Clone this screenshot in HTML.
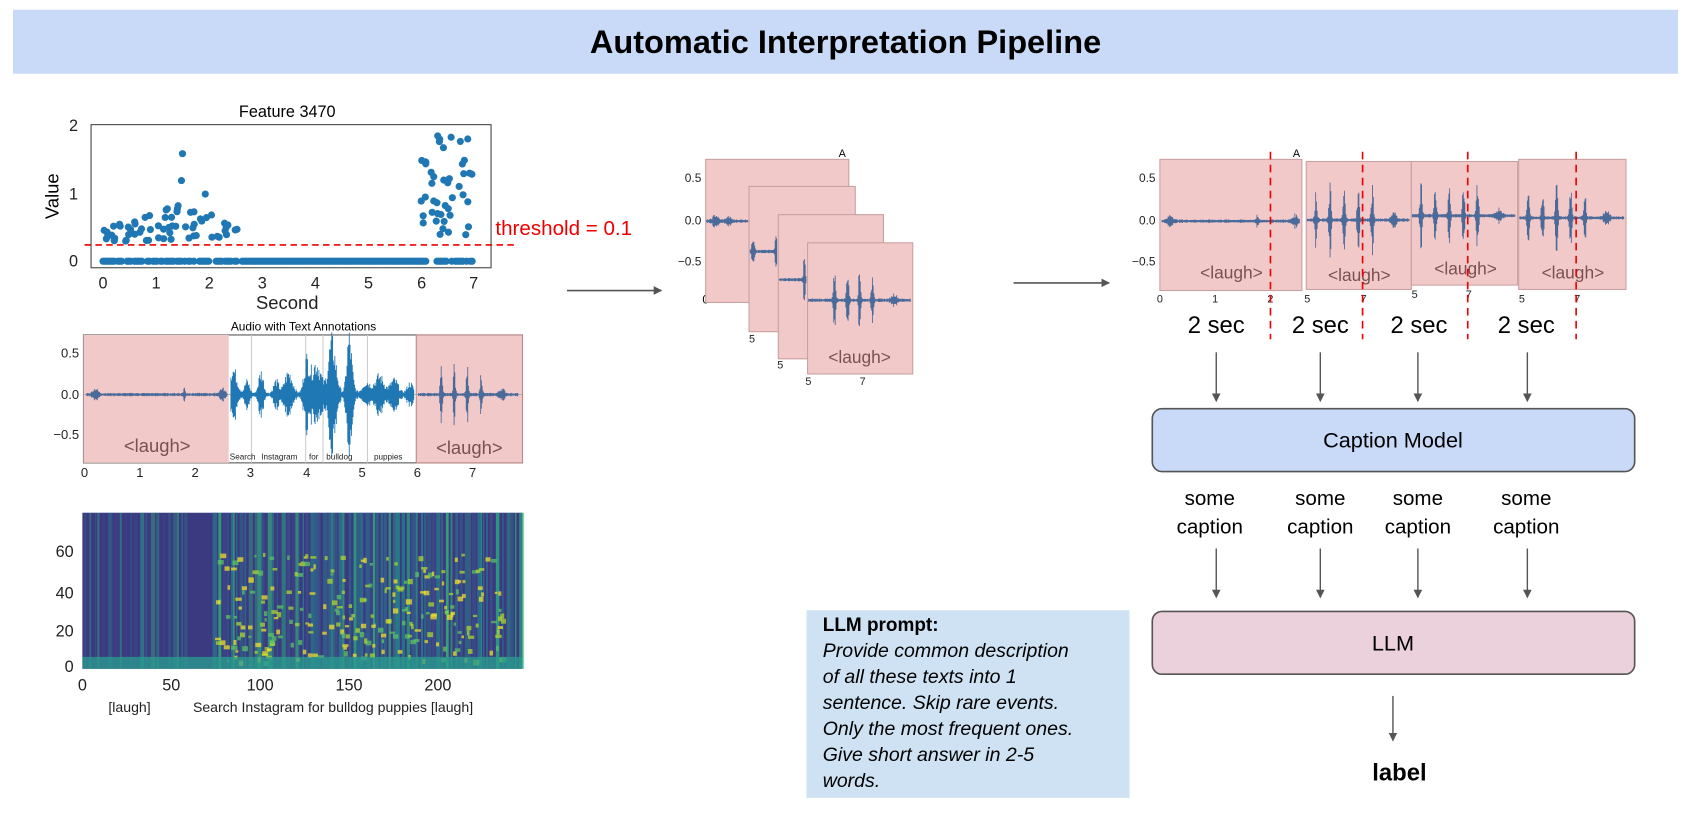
<!DOCTYPE html>
<html><head><meta charset="utf-8">
<style>
html,body{margin:0;padding:0;background:#fff;width:1699px;height:811px;overflow:hidden}
#w{position:absolute;left:0;top:0;width:1560px;height:750px;transform:scale(1.0840);transform-origin:0 0;font-family:"Liberation Sans",sans-serif}
</style></head><body><div id="w">
<svg width="1560" height="750" viewBox="0 0 1560 750" xmlns="http://www.w3.org/2000/svg" font-family="Liberation Sans, sans-serif">
<defs>
<marker id="ar" markerWidth="8" markerHeight="8" refX="7" refY="4" orient="auto" markerUnits="userSpaceOnUse"><path d="M0,0 L8,4 L0,8 z" fill="#555"/></marker>
</defs>
<rect x="12" y="9" width="1536" height="59" fill="#c9daf8"/>
<text x="780" y="49" text-anchor="middle" font-size="30" font-weight="bold">Automatic Interpretation Pipeline</text>

<text x="265" y="108" text-anchor="middle" font-size="15">Feature 3470</text>
<rect x="84" y="115" width="369" height="132" fill="none" stroke="#444" stroke-width="1"/>
<g font-size="15" text-anchor="end" fill="#222"><text x="72" y="121">2</text><text x="72" y="184">1</text><text x="72" y="246">0</text></g>
<g font-size="15" text-anchor="middle" fill="#222">
<text x="95" y="266">0</text><text x="144" y="266">1</text><text x="193" y="266">2</text><text x="242" y="266">3</text><text x="291" y="266">4</text><text x="340" y="266">5</text><text x="389" y="266">6</text><text x="437" y="266">7</text>
<text x="265" y="285" font-size="17">Second</text>
</g>
<text x="54" y="181" font-size="17" text-anchor="middle" transform="rotate(-90 54 181)">Value</text>
<g id="dots" fill="#1f77b4"></g>
<line x1="78" y1="226" x2="478" y2="226" stroke="#e00" stroke-width="1.5" stroke-dasharray="6,4"/>
<text x="457" y="217" font-size="19" fill="#e00">threshold = 0.1</text>

<text x="280" y="305" text-anchor="middle" font-size="11">Audio with Text Annotations</text>
<rect x="77" y="309" width="405" height="118" fill="#fff" stroke="#555"/>
<rect x="77" y="309" width="134" height="118" fill="#f2c9c9"/>
<rect x="384" y="309" width="98" height="118" fill="#f2c9c9" stroke="#b88" />
<g stroke="#ccc" stroke-width="1"><line x1="232" y1="309" x2="232" y2="427"/><line x1="282" y1="309" x2="282" y2="427"/><line x1="298" y1="309" x2="298" y2="427"/><line x1="339" y1="309" x2="339" y2="427"/></g>
<line x1="77" y1="364" x2="482" y2="364" stroke="#999" stroke-width="0.6"/>
<g id="wave1"></g>
<g font-size="12" text-anchor="end" fill="#222"><text x="73" y="330">0.5</text><text x="73" y="368">0.0</text><text x="73" y="405">−0.5</text></g>
<text x="145" y="417" font-size="17" fill="#7a5050" text-anchor="middle">&lt;laugh&gt;</text>
<text x="433" y="419" font-size="17" fill="#7a5050" text-anchor="middle">&lt;laugh&gt;</text>
<g font-size="7.5" fill="#222"><text x="212" y="424">Search</text><text x="241" y="424">Instagram</text><text x="285" y="424">for</text><text x="301" y="424">bulldog</text><text x="345" y="424">puppies</text></g>
<g font-size="12" text-anchor="middle" fill="#222"><text x="78" y="440">0</text><text x="129" y="440">1</text><text x="180" y="440">2</text><text x="231" y="440">3</text><text x="283" y="440">4</text><text x="334" y="440">5</text><text x="385" y="440">6</text><text x="436" y="440">7</text></g>

<rect x="76" y="473" width="406" height="144" fill="#3b3a80"/>
<g id="spec"></g>
<g font-size="15" text-anchor="end" fill="#222"><text x="68" y="514">60</text><text x="68" y="552">40</text><text x="68" y="587">20</text><text x="68" y="620">0</text></g>
<g font-size="15" text-anchor="middle" fill="#222"><text x="76" y="637">0</text><text x="158" y="637">50</text><text x="240" y="637">100</text><text x="322" y="637">150</text><text x="404" y="637">200</text></g>
<g font-size="13" fill="#222"><text x="100" y="657">[laugh]</text><text x="178" y="657">Search Instagram for bulldog puppies [laugh]</text></g>

<line x1="523" y1="268" x2="610" y2="268" stroke="#555" stroke-width="1.5" marker-end="url(#ar)"/>
<line x1="935" y1="261" x2="1023" y2="261" stroke="#555" stroke-width="1.5" marker-end="url(#ar)"/>

<text x="777" y="145" font-size="10" text-anchor="middle">A</text>
<g font-size="11" text-anchor="end" fill="#222"><text x="647" y="168">0.5</text><text x="647" y="207">0.0</text><text x="647" y="245">−0.5</text></g>
<text x="651" y="280" font-size="11" text-anchor="middle">0</text>
<g stroke="#c9a0a0" stroke-width="1">
<rect x="651" y="147" width="132" height="132" fill="#f2c9c9"/>
<rect x="691" y="172" width="98" height="134" fill="#f2c9c9"/>
<rect x="718" y="198" width="97" height="133" fill="#f2c9c9"/>
<rect x="745" y="224" width="97" height="121" fill="#f2c9c9"/>
</g>
<g id="wave2"></g>
<text x="793" y="335" font-size="16" fill="#7a5050" text-anchor="middle">&lt;laugh&gt;</text>
<g font-size="10" fill="#222"><text x="691" y="316">5</text><text x="717" y="340">5</text><text x="743" y="355">5</text><text x="793" y="355">7</text></g>

<text x="1196" y="145" font-size="10" text-anchor="middle">A</text>
<g font-size="11" text-anchor="end" fill="#222"><text x="1066" y="168">0.5</text><text x="1066" y="207">0.0</text><text x="1066" y="245">−0.5</text></g>
<g stroke="#c9a0a0" stroke-width="1">
<rect x="1070" y="147" width="131" height="121" fill="#f2c9c9"/>
<rect x="1205" y="149" width="97" height="118" fill="#f2c9c9"/>
<rect x="1302" y="149" width="98" height="114" fill="#f2c9c9"/>
<rect x="1401" y="147" width="99" height="120" fill="#f2c9c9"/>
</g>
<g id="wave3"></g>
<g font-size="16" fill="#7a5050" text-anchor="middle"><text x="1136" y="257">&lt;laugh&gt;</text><text x="1254" y="259">&lt;laugh&gt;</text><text x="1352" y="253">&lt;laugh&gt;</text><text x="1451" y="257">&lt;laugh&gt;</text></g>
<g font-size="10" fill="#222" text-anchor="middle"><text x="1070" y="279">0</text><text x="1121" y="279">1</text><text x="1172" y="279">2</text><text x="1206" y="279">5</text><text x="1258" y="279">7</text><text x="1305" y="275">5</text><text x="1355" y="275">7</text><text x="1404" y="279">5</text><text x="1455" y="279">7</text></g>
<g stroke="#e00" stroke-width="1.5" stroke-dasharray="7,5"><line x1="1172" y1="140" x2="1172" y2="313"/><line x1="1257" y1="140" x2="1257" y2="313"/><line x1="1354" y1="140" x2="1354" y2="313"/><line x1="1454" y1="140" x2="1454" y2="313"/></g>
<g font-size="22" text-anchor="middle"><text x="1122" y="307">2 sec</text><text x="1218" y="307">2 sec</text><text x="1309" y="307">2 sec</text><text x="1408" y="307">2 sec</text></g>
<g stroke="#555" stroke-width="1.3" marker-end="url(#ar)">
<line x1="1122" y1="325" x2="1122" y2="370"/><line x1="1218" y1="325" x2="1218" y2="370"/><line x1="1308" y1="325" x2="1308" y2="370"/><line x1="1409" y1="325" x2="1409" y2="370"/>
<line x1="1122" y1="506" x2="1122" y2="551"/><line x1="1218" y1="506" x2="1218" y2="551"/><line x1="1308" y1="506" x2="1308" y2="551"/><line x1="1409" y1="506" x2="1409" y2="551"/>
<line x1="1285" y1="642" x2="1285" y2="683"/>
</g>
<rect x="1063" y="377" width="445" height="58" rx="9" fill="#c9daf8" stroke="#555" stroke-width="1.5"/>
<text x="1285" y="413" font-size="20" text-anchor="middle">Caption Model</text>
<g font-size="19" text-anchor="middle"><text x="1116" y="466">some</text><text x="1116" y="492">caption</text><text x="1218" y="466">some</text><text x="1218" y="492">caption</text><text x="1308" y="466">some</text><text x="1308" y="492">caption</text><text x="1408" y="466">some</text><text x="1408" y="492">caption</text></g>
<rect x="1063" y="564" width="445" height="58" rx="9" fill="#ead1dc" stroke="#555" stroke-width="1.5"/>
<text x="1285" y="600" font-size="20" text-anchor="middle">LLM</text>
<text x="1291" y="720" font-size="22" font-weight="bold" text-anchor="middle">label</text>

<rect x="744" y="563" width="298" height="173" fill="#cfe2f3"/>
<text x="759" y="582" font-size="17.5" font-weight="bold">LLM prompt:</text>
<g font-size="18" font-style="italic"><text x="759" y="606">Provide common description</text><text x="759" y="630">of all these texts into 1</text><text x="759" y="654">sentence. Skip rare events.</text><text x="759" y="678">Only the most frequent ones.</text><text x="759" y="702">Give short answer in 2-5</text><text x="759" y="726">words.</text></g>
</svg>
</div>
<script>
var NS="http://www.w3.org/2000/svg";
function el(p,t,a){var e=document.createElementNS(NS,t);for(var k in a)e.setAttribute(k,a[k]);p.appendChild(e);return e;}
var s=7;function r(){s=(s*9301+49297)%233280;return s/233280;}
var d=document.getElementById("dots");
function X(t){return 95+t*48.9;} function Y(v){return 241-v*62;}
for(var t=0;t<=7;t+=0.035){ if((t>2.6&&t<6.1)||r()<0.6) el(d,"circle",{cx:X(t),cy:Y(0),r:3.3});}
for(var i=0;i<65;i++){var t=r()*2.6,v=0.3+r()*0.55*(1-Math.abs(t-1.5)/2.4);el(d,"circle",{cx:X(t),cy:Y(v),r:3.3});}
el(d,"circle",{cx:X(1.5),cy:Y(1.6),r:3.3});el(d,"circle",{cx:X(1.48),cy:Y(1.2),r:3.3});el(d,"circle",{cx:X(1.93),cy:Y(1.0),r:3.3});
for(var i=0;i<45;i++){var t=5.95+r()*1.05,v=0.35+r()*1.55;el(d,"circle",{cx:X(t),cy:Y(v),r:3.3});}
function wave(g,x0,x1,y0,amp,col,bursts){var p="";for(var x=x0;x<=x1;x+=0.7){var a=1.5;for(var b of bursts){var dx=(x-b[0])/b[2];a+=b[1]*Math.exp(-dx*dx);}a*= (0.5+r()*0.6);p+="M"+x.toFixed(1)+","+(y0-a).toFixed(1)+"V"+(y0+a).toFixed(1);}el(g,"path",{d:p,stroke:col,"stroke-width":0.8});}
var b1=[];for(var x=215;x<382;x+=9+r()*8)b1.push([x,10+r()*25,3+r()*3]);b1.push([322,48,3]);b1.push([305,28,4]);
wave(document.getElementById("wave1"),213,382,364,1,"#1f77b4",b1);
wave(document.getElementById("wave1"),80,210,364,1,"#4a6a9a",[[88,5,3],[170,6,1],[205,5,3]]);
wave(document.getElementById("wave1"),386,478,364,1,"#4a6a9a",[[407,25,1.2],[419,28,1.2],[431,26,1.2],[444,22,1.2],[463,5,3]]);
var w2=document.getElementById("wave2");
wave(w2,652,690,204,1,"#4a6a9a",[[660,5,3],[672,3,3]]);
wave(w2,692,717,232,1,"#4a6a9a",[[695,15,1.5],[716,25,1]]);
wave(w2,719,744,258,1,"#4a6a9a",[[742,24,1]]);
wave(w2,746,840,277,1,"#4a6a9a",[[770,28,1.3],[782,30,1.3],[793,28,1.3],[805,24,1.3],[825,5,3]]);
var w3=document.getElementById("wave3");
wave(w3,1072,1199,204,1,"#4a6a9a",[[1080,5,3],[1160,5,1],[1195,5,3]]);
[[1206,1300,203],[1303,1398,199],[1402,1498,201]].forEach(function(q){var bs=[];for(var k=0;k<5;k++)bs.push([q[0]+8+k*13,26+r()*8,1.3]);bs.push([q[0]+80,6,3]);wave(w3,q[0],q[1],q[2],1,"#4a6a9a",bs);});
var sp=document.getElementById("spec");
var cols=["#2c728e","#21918c","#28ae80","#3b528b","#26828e","#35b779"];
for(var x=78;x<482;x+=2+r()*4){if(x>170&&x<192)continue;var w=1+r()*3;var c=cols[Math.floor(r()*cols.length)];var o=x>190?0.35+r()*0.45:0.2+r()*0.3;el(sp,"rect",{x:x,y:473,width:w,height:144,fill:c,opacity:o});}
for(var i=0;i<260;i++){var x=196+r()*270;var y=510+r()*100;el(sp,"rect",{x:x,y:y,width:2+r()*4,height:2+r()*3,fill:r()<0.35?"#fde725":(r()<0.5?"#b5de2b":"#5ec962"),opacity:0.7});}
el(sp,"rect",{x:76,y:606,width:406,height:11,fill:"#2a9d8f",opacity:0.75});
</script>
</body></html>
